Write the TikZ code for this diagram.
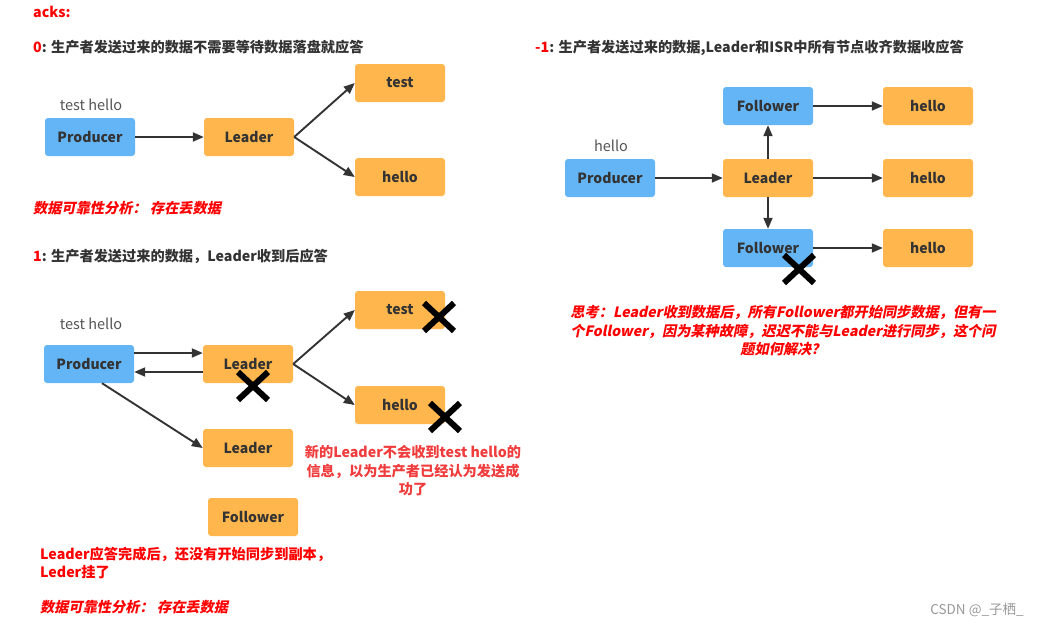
\documentclass[tikz,border=0pt]{standalone}
\usepackage{fontspec}
\setmainfont{Noto Sans CJK SC}
\newfontfamily\slfont{Noto Sans CJK SC}[FakeSlant=0.2]
\usetikzlibrary{arrows.meta}
\definecolor{boxblue}{HTML}{64B5F6}
\definecolor{boxorange}{HTML}{FFB74D}
\definecolor{ink}{HTML}{333333}
\definecolor{graytext}{HTML}{555555}
\definecolor{hred}{HTML}{FF0000}
\definecolor{lred}{HTML}{F03C3C}
\definecolor{wmark}{HTML}{999999}
\begin{document}
\begin{tikzpicture}[x=1pt,y=-1pt,
  box/.style={rounded corners=3pt, minimum width=90pt, minimum height=38pt, inner sep=0pt,
    font=\fontsize{14}{16}\selectfont\bfseries, text=ink},
  bluebox/.style={box, fill=boxblue},
  orangebox/.style={box, fill=boxorange},
  conn/.style={draw=ink, line width=1.9pt, -{Triangle[length=11pt,width=9pt]}},
  xmark/.style={line width=6pt, draw=black},
  heading/.style={anchor=west, inner sep=0pt, font=\fontsize{14.2}{16}\selectfont\bfseries, text=ink},
  redhead/.style={anchor=west, inner sep=0pt, font=\fontsize{14.2}{16}\selectfont\bfseries, text=hred},
  redital/.style={inner sep=0pt, font=\fontsize{14.2}{18.5}\selectfont\slfont\bfseries, text=hred},
  rednote/.style={inner sep=0pt, font=\fontsize{14.2}{18.5}\selectfont\bfseries, text=lred},
  label/.style={inner sep=0pt, font=\fontsize{14.5}{16}\selectfont, text=graytext}
]
\useasboundingbox (0,0) rectangle (1039,625);
\fill[white] (0,0) rectangle (1039,625);

% ---------- heading ----------
\node[redhead] (acks) at (33,12) {acks:};

% ---------- section 0 ----------
\node[heading] (h0) at (33,47) {\textcolor{hred}{0}: 生产者发送过来的数据不需要等待数据落盘就应答};
\node[label] (th0) at (91,105) {test hello};
\node[bluebox] (p0) at (90,137) {Producer};
\node[orangebox] (l0) at (249,137) {Leader};
\node[orangebox] (t0) at (400,83) {test};
\node[orangebox] (e0) at (400,177) {hello};
\draw[conn] (p0.east) -- (l0.west);
\draw[conn] (l0.east) -- (t0.west);
\draw[conn] (l0.east) -- (e0.west);
\node[redital, anchor=west] (r0) at (33,208) {数据可靠性分析：~存在丢数据};

% ---------- section 1 ----------
\node[heading] (h1) at (33,256) {\textcolor{hred}{1}: 生产者发送过来的数据，Leader收到后应答};
\node[label] (th1) at (91,324) {test hello};
\node[bluebox] (p1) at (89,364) {Producer};
\node[orangebox] (l1) at (248,364) {Leader};
\node[orangebox] (t1) at (400,310) {test};
\node[orangebox] (e1) at (400,405) {hello};
\node[orangebox] (l1b) at (248,448) {Leader};
\node[orangebox] (f1) at (253,517) {Follower};
\draw[conn] ([yshift=11pt]p1.east) -- ([yshift=11pt]l1.west);
\draw[conn] ([yshift=-8pt]l1.west) -- ([yshift=-8pt]p1.east);
\draw[conn] (l1.east) -- (t1.west);
\draw[conn] (l1.east) -- (e1.west);
\draw[conn] ([xshift=13pt]p1.south) -- (l1b.west);
\coordinate (x1) at (439,317);
\coordinate (x2) at (253,386);
\coordinate (x3) at (445,417);
\foreach \c in {x1,x2,x3}{
  \draw[xmark] (\c) +(-15,-14) -- +(15,14) (\c) +(-15,14) -- +(15,-14);
}
\node[rednote, align=center] (n1) at (413,471) {新的Leader不会收到test hello的\\信息，以为生产者已经认为发送成\\功了};
\node[redhead, align=left, font=\fontsize{14.2}{18.5}\selectfont\bfseries] (n2) at (40,563) {Leader应答完成后，还没有开始同步到副本，\\Leder挂了};
\node[redital, anchor=west] (r1) at (40,607) {数据可靠性分析：~存在丢数据};

% ---------- section -1 ----------
\node[heading] (h2) at (535,48) {\textcolor{hred}{-1}: 生产者发送过来的数据,Leader和ISR中所有节点收齐数据收应答};
\node[label] (th2) at (611,146) {hello};
\node[bluebox] (p2) at (610,178) {Producer};
\node[orangebox] (l2) at (768,178) {Leader};
\node[bluebox] (fa) at (768,106) {Follower};
\node[bluebox] (fb) at (768,248) {Follower};
\node[orangebox] (ea) at (928,106) {hello};
\node[orangebox] (eb) at (928,178) {hello};
\node[orangebox] (ec) at (928,248) {hello};
\draw[conn] (p2.east) -- (l2.west);
\draw[conn] (l2.north) -- (fa.south);
\draw[conn] (l2.south) -- (fb.north);
\draw[conn] (fa.east) -- (ea.west);
\draw[conn] (l2.east) -- (eb.west);
\draw[conn] (fb.east) -- (ec.west);
\coordinate (x4) at (799,269);
\draw[xmark] (x4) +(-15,-14) -- +(15,14) (x4) +(-15,14) -- +(15,-14);
\node[redital, align=center] (q) at (783,331) {思考：Leader收到数据后，所有Follower都开始同步数据，但有一\\个Follower，因为某种故障，迟迟不能与Leader进行同步，这个问\\题如何解决？};

\node[inner sep=0pt, font=\fontsize{13.5}{14}\selectfont, text=wmark] (wm) at (977,610) {CSDN @\_子栖\_};
\end{tikzpicture}
\end{document}
